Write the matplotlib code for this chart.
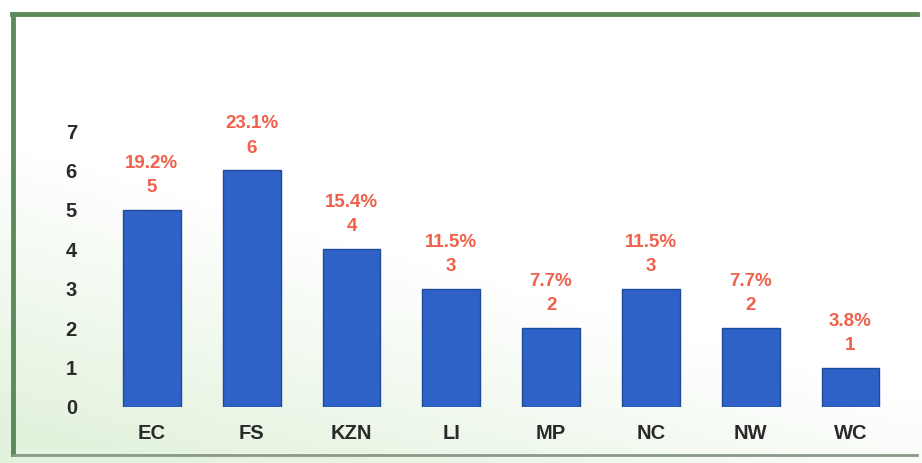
import numpy as np
import matplotlib.pyplot as plt
from matplotlib.lines import Line2D
from matplotlib.colors import LinearSegmentedColormap

# Data
provinces = ['EC', 'FS', 'KZN', 'LI', 'MP', 'NC', 'NW', 'WC']
counts = [5, 6, 4, 3, 2, 3, 2, 1]
percents = ['19.2%', '23.1%', '15.4%', '11.5%', '7.7%', '11.5%', '7.7%', '3.8%']
y_ticks = [0, 1, 2, 3, 4, 5, 6, 7]

font = ['Liberation Sans Narrow', 'Liberation Sans', 'DejaVu Sans']
label_red = '#F0604A'
bar_blue = '#2E62C6'

fig = plt.figure(figsize=(9.22, 4.63), dpi=100)
fig.patch.set_facecolor('white')

# faint green wash in the lower-left, like the scanned chart background
bg = fig.add_axes([0, 0, 1, 1], zorder=-1)
gx, gy = np.meshgrid(np.linspace(0, 1, 200), np.linspace(0, 1, 100))
wash = np.clip(1.6 * gy - 0.9 * gx - 0.5, 0, 1)
wash_cmap = LinearSegmentedColormap.from_list('wash', ['#ffffff', '#e2f2dc'])
bg.imshow(wash, cmap=wash_cmap, vmin=0, vmax=1, extent=[0, 1, 0, 1],
          aspect='auto', origin='upper')
bg.set_xlim(0, 1)
bg.set_ylim(0, 1)
bg.axis('off')

# frame around the chart
frame_color = '#5B8A5B'
fig.add_artist(Line2D([0.014, 0.014], [0.02, 0.97], color=frame_color, lw=3.5))
fig.add_artist(Line2D([0.013, 0.995], [0.97, 0.97], color=frame_color, lw=3.5))
fig.add_artist(Line2D([0.014, 0.995], [0.018, 0.018], color='#8A9A8A', lw=2))

ax = fig.add_axes([0.1106, 0.121, 0.866, 0.596])
ax.set_facecolor('none')

x = np.arange(len(provinces))
ax.bar(x, counts, width=0.58, color=bar_blue, edgecolor='#1E4A9C', linewidth=1)

for xi, c, p in zip(x, counts, percents):
    ax.annotate(f'{p}\n{c}', (xi, c), xytext=(0, 10), textcoords='offset points',
                ha='center', va='bottom', color=label_red, fontsize=13.5,
                fontweight='bold', family=font, linespacing=1.55,
                annotation_clip=False)

ax.set_xlim(-0.5, len(provinces) - 0.5)
ax.set_ylim(0, 7)
ax.set_yticks(y_ticks)
ax.set_xticks(x)
ax.set_xticklabels(provinces)
ax.tick_params(length=0, labelsize=14.5, labelcolor='#2A2A2A', pad=12)
ax.tick_params(axis='y', pad=18)
for lab in ax.get_xticklabels() + ax.get_yticklabels():
    lab.set_fontweight('bold')
    lab.set_family(font)
for s in ax.spines.values():
    s.set_visible(False)

fig.savefig('out.png', dpi=100)
